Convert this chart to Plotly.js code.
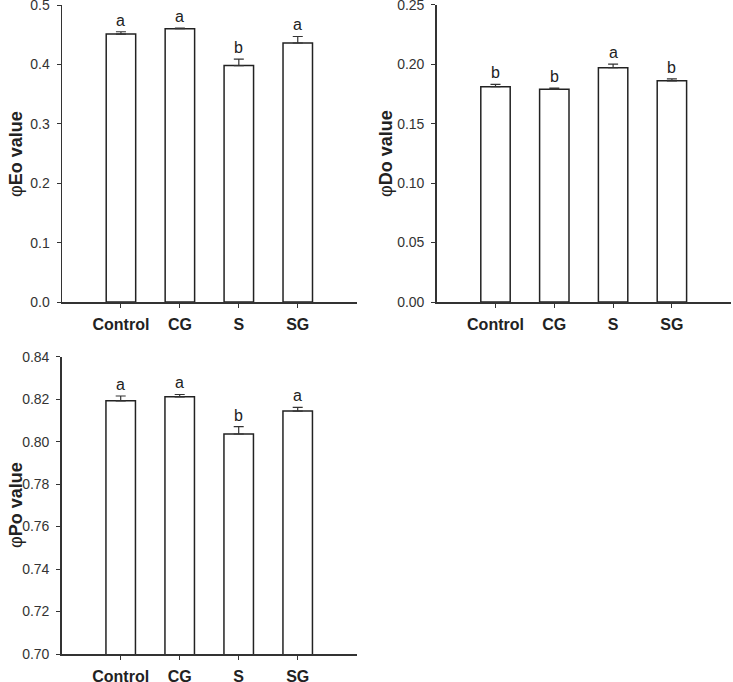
<!DOCTYPE html>
<html>
<head>
<meta charset="utf-8">
<script src="https://cdn.plot.ly/plotly-3.0.1.min.js"></script>
<style>html,body{margin:0;padding:0;background:#fff;}#chart{width:733px;height:682px;}</style>
</head>
<body>
<div id="chart"></div>
<script>
const categories = ["Control", "CG", "S", "SG"];

const eoMean = [0.451, 0.460, 0.398, 0.436];
const eoErr = [0.004, 0.001, 0.011, 0.011];
const eoLetters = ["a", "a", "b", "a"];

const doMean = [0.181, 0.179, 0.197, 0.186];
const doErr = [0.002, 0.0008, 0.003, 0.0017];
const doLetters = ["b", "b", "a", "b"];

const poMean = [0.8192, 0.8211, 0.8036, 0.8144];
const poErr = [0.0023, 0.0011, 0.0035, 0.0017];
const poLetters = ["a", "a", "b", "a"];

const eoTicks = [0, 0.1, 0.2, 0.3, 0.4, 0.5];
const doTicks = [0, 0.05, 0.10, 0.15, 0.20, 0.25];
const poTicks = [0.70, 0.72, 0.74, 0.76, 0.78, 0.80, 0.82, 0.84];

const W = 733, H = 682;
const lineCol = "#333333";

function barTrace(y, err, xa, ya) {
  return {
    type: "bar", x: categories, y: y, xaxis: xa, yaxis: ya,
    width: 0.5,
    marker: {color: "#ffffff", line: {color: "#222222", width: 1.5}},
    error_y: {type: "data", symmetric: false, array: err, arrayminus: err.map(() => 0),
              visible: true, color: lineCol, thickness: 1.2, width: 5},
    hoverinfo: "skip", showlegend: false
  };
}

const data = [
  barTrace(eoMean, eoErr, "x", "y"),
  barTrace(doMean, doErr, "x2", "y2"),
  barTrace(poMean, poErr, "x3", "y3")
];

function xAxis(domain, anchor) {
  return {
    domain: domain, anchor: anchor, type: "category", range: [-1, 4],
    showline: true, linecolor: lineCol, linewidth: 1.5,
    ticks: "outside", ticklen: 4, tickcolor: lineCol, tickwidth: 1,
    showgrid: false, zeroline: false, fixedrange: true,
    tickfont: {family: "Liberation Sans, Arial, sans-serif", size: 16, color: "#222222", weight: "bold"},
    ticklabelstandoff: 3
  };
}
function yAxis(domain, anchor, range, ticks, fmt) {
  return {
    domain: domain, anchor: anchor, range: range,
    tickmode: "array", tickvals: ticks, ticktext: ticks.map(v => v.toFixed(fmt)),
    showline: true, linecolor: lineCol, linewidth: 1.5,
    ticks: "outside", ticklen: 4, tickcolor: lineCol, tickwidth: 1,
    showgrid: false, zeroline: false, fixedrange: true,
    tickfont: {family: "Liberation Sans, Arial, sans-serif", size: 14, color: "#333333"},
    ticklabelstandoff: 4, ticklabeloverflow: "allow"
  };
}

const px = v => v / W;
const py = v => 1 - v / H;

const annotations = [];
function addLetters(means, errs, letters, xa, ya) {
  for (let i = 0; i < categories.length; i++) {
    annotations.push({
      xref: xa, yref: ya, x: categories[i], y: means[i] + errs[i],
      text: letters[i], showarrow: false, yanchor: "bottom", yshift: 1,
      font: {family: "Liberation Sans, Arial, sans-serif", size: 16, color: "#222222"}
    });
  }
}
addLetters(eoMean, eoErr, eoLetters, "x", "y");
addLetters(doMean, doErr, doLetters, "x2", "y2");
addLetters(poMean, poErr, poLetters, "x3", "y3");

function yTitle(text, xPix, yPix) {
  annotations.push({
    xref: "paper", yref: "paper", x: px(xPix), y: py(yPix), text: text,
    textangle: -90, showarrow: false, xanchor: "center", yanchor: "middle",
    font: {family: "Liberation Sans, Arial, sans-serif", size: 18, color: "#222222"}
  });
}
yTitle("φ<b>Eo value</b>", 16, 154);
yTitle("φ<b>Do value</b>", 386, 154);
yTitle("φ<b>Po value</b>", 16, 505);

const layout = {
  width: W, height: H,
  margin: {l: 0, r: 0, t: 0, b: 0},
  paper_bgcolor: "#ffffff", plot_bgcolor: "rgba(0,0,0,0)",
  showlegend: false,
  xaxis: xAxis([px(62), px(356.7)], "y"),
  yaxis: yAxis([py(302), py(5)], "x", [0, 0.5], eoTicks, 1),
  xaxis2: xAxis([px(436.7), px(730.7)], "y2"),
  yaxis2: yAxis([py(302), py(4.7)], "x2", [0, 0.25], doTicks, 2),
  xaxis3: xAxis([px(61.7), px(356.7)], "y3"),
  yaxis3: yAxis([py(654), py(356.7)], "x3", [0.70, 0.84], poTicks, 2),
  annotations: annotations
};

Plotly.newPlot("chart", data, layout, {staticPlot: true, displayModeBar: false});
</script>
</body>
</html>
